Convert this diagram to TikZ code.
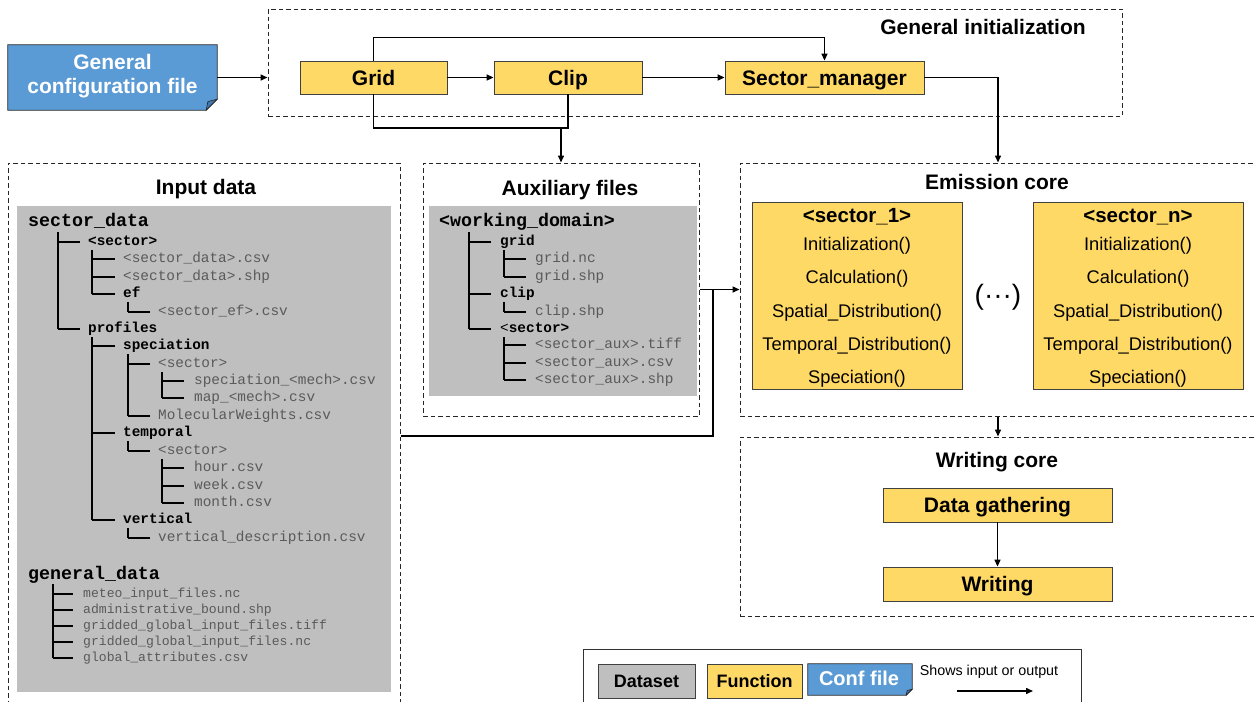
\documentclass[tikz,border=0pt]{standalone}
\usepackage{fontspec}
\setmainfont{Liberation Sans}
\setsansfont{Liberation Sans}
\setmonofont{Liberation Mono}
\usetikzlibrary{arrows.meta,calc}
\definecolor{fyellow}{HTML}{FFD966}
\definecolor{cblue}{HTML}{5B9BD5}
\definecolor{cblued}{HTML}{3F78AE}
\definecolor{dgray}{HTML}{BFBFBF}
\definecolor{fgray}{HTML}{5A5A5A}
\newcounter{tn}
\newcommand\fsz[1]{\fontsize{#1}{#1}\selectfont}
\newcommand\tnd[4]{\stepcounter{tn}\node[#1] (tn\the\value{tn}) at (#2,#3) {#4};}
\newcommand\tbranch[5]{%
  \draw[tree] (#1,#2) -- (#1,#3);
  \foreach \yy in {#5} {\draw[tree] (#1,\yy) -- (#4,\yy);}}
\newcommand\confshape[2]{%
  \filldraw[fill=cblue, draw=black!85, line width=0.8pt] (#1.north west) -- (#1.north east) -- ($(#1.south east)+(0,-#2)$) -- ($(#1.south east)+(-#2,0)$) -- (#1.south west) -- cycle;
  \filldraw[fill=cblued, draw=black!85, line width=0.6pt] ($(#1.south east)+(-#2,0)$) -- ($(#1.south east)+(-0.85*#2,-0.78*#2)$) -- ($(#1.south east)+(0,-#2)$) -- cycle;}
\newcommand\sectorbox[3]{%
  \node[sbox] (#1) at (#2,295.5) {};
  \node[flinebf] (#1t) at (#2,215) {#3};
  \node[fline] (#1a) at (#2,244) {Initialization()};
  \node[fline] (#1b) at (#2,277) {Calculation()};
  \node[fline] (#1c) at (#2,311) {Spatial\_Distribution()};
  \node[fline] (#1d) at (#2,344) {Temporal\_Distribution()};
  \node[fline] (#1e) at (#2,377) {Speciation()};}

\begin{document}
\begin{tikzpicture}[x=1pt,y=-1pt,
  arr/.style={line width=1.5pt,-{Triangle[length=7pt,width=6pt]}},
  conn/.style={line width=1.5pt},
  dbox/.style={draw=black!85,dash pattern=on 4.5pt off 3pt,line width=1pt,inner sep=0},
  fbox/.style={draw=black!75,fill=fyellow,line width=0.8pt,inner sep=0,font=\bfseries\fsz{21},text height=15pt,text depth=0pt},
  sbox/.style={draw=black!75,fill=fyellow,line width=0.8pt,inner sep=0,minimum width=210pt,minimum height=187pt},
  ttl/.style={font=\bfseries\fsz{21},inner sep=0,text height=15pt,text depth=0pt},
  fline/.style={font=\fsz{18.3},inner sep=0,text height=13.1pt,text depth=0pt},
  flinebf/.style={font=\bfseries\fsz{20.5},inner sep=0,text height=14.7pt,text depth=0pt},
  tree/.style={line width=1.2pt},
  troot/.style={font=\ttfamily\bfseries\fsz{18.3},anchor=base west,inner sep=0},
  tdir/.style={font=\ttfamily\bfseries\fsz{14.4},anchor=base west,inner sep=0},
  tfile/.style={font=\ttfamily\fsz{14.4},text=fgray,anchor=base west,inner sep=0},
  gfile/.style={font=\ttfamily\fsz{13.1},text=fgray,anchor=base west,inner sep=0}
]
\useasboundingbox (0,0) rectangle (1254,702);
\clip (0,0) rectangle (1254,702);
\fill[white] (0,0) rectangle (1254,702);

% ---------- General initialization ----------
\node[dbox, minimum width=854pt, minimum height=107pt] (geninit) at (695,62.5) {};
\node[ttl] (geninitT) at (983,27) {General initialization};
\node[fbox, minimum width=147pt, minimum height=33pt] (grid) at (373.5,77.5) {Grid};
\node[fbox, minimum width=148pt, minimum height=33pt] (clip) at (568,77.5) {Clip};
\node[fbox, minimum width=199pt, minimum height=33pt] (sm) at (824.5,77.5) {Sector\_manager};

% ---------- Configuration file ----------
\node[minimum width=209pt, minimum height=65pt, inner sep=0] (conf) at (112.5,77.5) {};
\confshape{conf}{11}
\node[align=center, text=white, font=\bfseries\fontsize{21}{24}\selectfont, inner sep=0] (conftxt) at (112.5,76) {General\\configuration file};

% ---------- Input data ----------
\node[dbox, minimum width=392pt, minimum height=546pt] (input) at (204,436) {};
\node[ttl] (inputT) at (206,187) {Input data};
\node[fill=dgray, inner sep=0, minimum width=374pt, minimum height=486pt] (ingray) at (204,449) {};

\tnd{troot}{28}{226.6}{sector\_data}
\tnd{tdir}{88}{245.6}{<sector>}
\tnd{tfile}{123}{262.6}{<sector\_data>.csv}
\tnd{tfile}{123}{280.6}{<sector\_data>.shp}
\tnd{tdir}{123}{297.6}{ef}
\tnd{tfile}{158}{315.6}{<sector\_ef>.csv}
\tnd{tdir}{88}{332.6}{profiles}
\tnd{tdir}{123}{349.6}{speciation}
\tnd{tfile}{158}{367.6}{<sector>}
\tnd{tfile}{194}{384.6}{speciation\_<mech>.csv}
\tnd{tfile}{194}{401.6}{map\_<mech>.csv}
\tnd{tfile}{158}{419.6}{MolecularWeights.csv}
\tnd{tdir}{123}{436.6}{temporal}
\tnd{tfile}{158}{454.6}{<sector>}
\tnd{tfile}{194}{471.6}{hour.csv}
\tnd{tfile}{194}{489.6}{week.csv}
\tnd{tfile}{194}{506.6}{month.csv}
\tnd{tdir}{123}{523.6}{vertical}
\tnd{tfile}{158}{541.6}{vertical\_description.csv}
\tnd{troot}{28}{579.6}{general\_data}
\tnd{gfile}{83}{597.3}{meteo\_input\_files.nc}
\tnd{gfile}{83}{613.3}{administrative\_bound.shp}
\tnd{gfile}{83}{629.3}{gridded\_global\_input\_files.tiff}
\tnd{gfile}{83}{645.3}{gridded\_global\_input\_files.nc}
\tnd{gfile}{83}{661.3}{global\_attributes.csv}

\tbranch{58}{232}{329}{80}{242,329}
\tbranch{92}{250}{294}{115}{259,277,294}
\tbranch{128}{302}{312}{150}{312}
\tbranch{92}{337}{520}{115}{346,433,520}
\tbranch{128}{354}{416}{150}{364,416}
\tbranch{162}{372}{398}{184}{381,398}
\tbranch{128}{441}{451}{150}{451}
\tbranch{162}{459}{503}{184}{468,486,503}
\tbranch{128}{528}{538}{150}{538}
\tbranch{53}{584}{658}{73}{594,610,626,642,658}

% ---------- Auxiliary files ----------
\node[dbox, minimum width=276pt, minimum height=253pt] (aux) at (561,289.5) {};
\node[ttl] (auxT) at (570,188) {Auxiliary files};
\node[fill=dgray, inner sep=0, minimum width=268pt, minimum height=190pt] (auxgray) at (563,301) {};

\tnd{troot}{439}{226.6}{<working\_domain>}
\tnd{tdir}{500}{245.6}{grid}
\tnd{tfile}{535}{262.6}{grid.nc}
\tnd{tfile}{535}{280.6}{grid.shp}
\tnd{tdir}{500}{297.6}{clip}
\tnd{tfile}{535}{315.6}{clip.shp}
\tnd{tdir}{500}{332.6}{{\mdseries<}sector>}
\tnd{tfile}{535}{348.6}{<sector\_aux>.tiff}
\tnd{tfile}{535}{366.6}{<sector\_aux>.csv}
\tnd{tfile}{535}{383.6}{<sector\_aux>.shp}

\tbranch{469}{232}{329}{491}{242,294,329}
\tbranch{504}{250}{277}{526}{259,277}
\tbranch{504}{302}{312}{526}{312}
\tbranch{504}{337}{380}{526}{345,363,380}

% ---------- Emission core ----------
\node[dbox, minimum width=516pt, minimum height=253pt] (emcore) at (998,289.5) {};
\node[ttl] (emT) at (997,182) {Emission core};
\sectorbox{s1}{857}{<sector\_1>}
\sectorbox{sn}{1138}{<sector\_n>}
\node[font=\fsz{28}, inner sep=0] (dots) at (998,297) {(···)};

% ---------- Writing core ----------
\node[dbox, minimum width=516pt, minimum height=179pt] (wcore) at (998,526.5) {};
\node[ttl] (wT) at (997,460) {Writing core};
\node[fbox, minimum width=229pt, minimum height=34pt] (dg) at (997.5,505) {Data gathering};
\node[fbox, minimum width=229pt, minimum height=34pt] (wr) at (997.5,584) {Writing};

% ---------- Legend ----------
\node[draw=black!80, line width=1pt, minimum width=498pt, minimum height=63pt, inner sep=0] (legend) at (832,680.5) {};
\node[draw=black!75, fill=dgray, line width=0.8pt, minimum width=97pt, minimum height=34pt, inner sep=0, font=\bfseries\fsz{18}, text height=12.9pt, text depth=0pt] (ldata) at (646.5,681) {Dataset};
\node[fbox, font=\bfseries\fsz{18}, text height=12.9pt, minimum width=95pt, minimum height=34pt] (lfunc) at (754.5,681) {Function};
\node[minimum width=104pt, minimum height=31pt, inner sep=0] (lconf) at (860,679.5) {};
\confshape{lconf}{6}
\node[ttl, font=\bfseries\fsz{20}, text height=14.3pt, text=white] (lconft) at (859,678) {Conf file};
\node[font=\fsz{14.3}, inner sep=0, text height=10.3pt, text depth=0pt] (lshow) at (989,670) {Shows input or output};
\coordinate (la) at (957,691);
\coordinate (lb) at (1033,691);
\draw[arr] (la) -- (lb);

% ---------- Connectors ----------
\coordinate (j) at (561,128);
\coordinate (m) at (713,289.5);
\draw[arr] (conf.east) -- (conf.east -| geninit.west);
\draw[arr] (grid) -- (clip);
\draw[arr] (clip) -- (sm);
\draw[arr] (grid.north) -- ++(0,-23) -| (sm.north);
\draw[conn] (grid.south) |- (clip.south |- j) -- (clip.south);
\draw[arr] (j) -- (aux.north);
\draw[arr] (sm.east) -| (emcore.north);
\draw[conn] (input.east) -| (m);
\draw[arr] (aux.east) -- (emcore.west);
\draw[arr] (emcore.south) -- (wcore.north);
\draw[arr] (dg) -- (wr);
\end{tikzpicture}
\end{document}
